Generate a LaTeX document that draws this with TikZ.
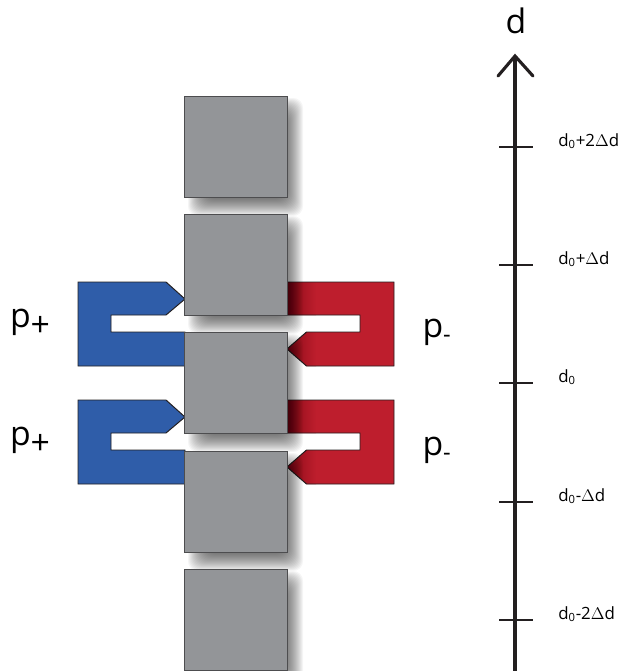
\documentclass[tikz,border=0pt]{standalone}
\usepackage{fontspec}
\setmainfont{Open Sans}
\definecolor{blockgray}{HTML}{939598}
\definecolor{blockedge}{HTML}{4D4D4F}
\definecolor{combblue}{HTML}{2F5DA9}
\definecolor{combred}{HTML}{BE1E2D}
\definecolor{deepred}{HTML}{8A0A18}
\definecolor{inkline}{HTML}{231F20}
\tikzset{
  block/.style={draw=blockedge, line width=0.7pt, fill=blockgray, minimum width=2.55cm, minimum height=2.54cm, inner sep=0pt},
  comb/.style={draw=inkline, line width=0.7pt},
  axisline/.style={draw=inkline, line width=2.2pt},
  tickline/.style={draw=inkline, line width=2pt},
  ticklabel/.style={anchor=west, inner sep=0pt, font=\fontsize{12}{14}\selectfont},
  bigp/.style={inner sep=0pt, font=\fontsize{24}{28}\selectfont},
}
\newcommand{\redcomb}{(287,282) -- (394,282) -- (394,366) -- (306.5,366) -- (287,349) -- (306.5,332) -- (360,332) -- (360,315) -- (287,315) -- cycle}
\begin{document}
\begin{tikzpicture}[x=0.025cm, y=-0.025cm]
  \useasboundingbox (0,0) rectangle (621,671);
  % combs
  \foreach \y in {0,118} {
    \begin{scope}[shift={(0,\y)}]
      \draw[comb, fill=combblue] (78,282) -- (166,282) -- (185,299) -- (166,315) -- (111,315) -- (111,332) -- (185,332) -- (185,366) -- (78,366) -- cycle;
      \fill[combred] \redcomb;
      \begin{scope}
        \clip \redcomb;
        \shade[left color=deepred, right color=combred] (287,275) rectangle (316,370);
      \end{scope}
      \draw[comb] \redcomb;
    \end{scope}
  }
  % soft shadows
  \foreach \cy in {147,265,383,502,620} {
    \foreach \r in {0,...,21} {
      \fill[black, opacity=0.04, rounded corners=7pt] ({188+\r},{\cy-49+\r}) rectangle ({303-\r},{\cy+69-\r});
    }
  }
  % blocks
  \node[block] (blockA) at (236,147) {};
  \node[block] (blockB) at (236,265) {};
  \node[block] (blockC) at (236,383) {};
  \node[block] (blockD) at (236,502) {};
  \node[block] (blockE) at (236,620) {};
  \node[bigp] (plusA) at (30,323) {p\raisebox{-0.28em}{+}};
  \node[bigp] (plusB) at (30,441) {p\raisebox{-0.28em}{+}};
  \node[bigp] (minusA) at (437,332) {p\textsubscript{-}};
  \node[bigp] (minusB) at (437,450) {p\textsubscript{-}};
  % axis
  \coordinate (axisBottom) at (515,671);
  \coordinate (axisTop) at (515,56);
  \coordinate (wingL) at (498,76);
  \coordinate (wingR) at (533,76);
  \draw[axisline] (axisBottom) -- (axisTop);
  \draw[axisline, line cap=round, line join=miter] (wingL) -- (axisTop) -- (wingR);
  \node[inner sep=0pt, font=\fontsize{24}{28}\selectfont] (axisName) at (516,21) {d};
  \foreach \y/\t/\n in {147/{+2$\Delta$d}/a, 265/{+$\Delta$d}/b, 383/{}/c, 502/{-$\Delta$d}/d, 620/{-2$\Delta$d}/e} {
    \draw[tickline] (499,\y) -- (533,\y);
    \node[ticklabel] (tick\n) at (558,\y-6) {d\textsubscript{0}\t};
  }
\end{tikzpicture}
\end{document}
